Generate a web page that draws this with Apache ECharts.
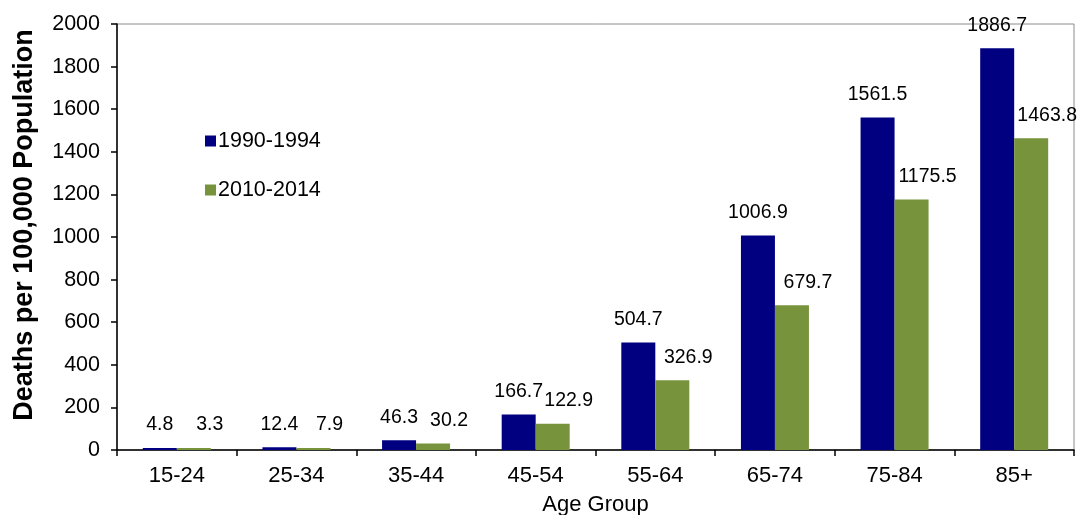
<!DOCTYPE html>
<html>

<head>
  <meta charset="utf-8" />
  <title>Deaths per 100,000 by Age Group</title>
  <script src="https://cdn.jsdelivr.net/npm/echarts@6/dist/echarts.min.js"></script>
  <style>
    html, body {
      margin: 0;
      padding: 0;
      background: #fff;
    }

    #main {
      width: 1080px;
      height: 515px;
    }
  </style>
</head>

<body>
  <div id="main"></div>

  <script>
    // 数据
    var ageGroups = ["15-24", "25-34", "35-44", "45-54", "55-64", "65-74", "75-84", "85+"];
    var rate1990 = [4.8, 12.4, 46.3, 166.7, 504.7, 1006.9, 1561.5, 1886.7];
    var rate2010 = [3.3, 7.9, 30.2, 122.9, 326.9, 679.7, 1175.5, 1463.8];
    var seriesNames = ["1990-1994", "2010-2014"];

    var font = "'Liberation Sans', Arial, sans-serif";

    var myChart = echarts.init(document.getElementById("main"));
    var option = {
      animation: false,
      backgroundColor: "#fff",
      textStyle: { fontFamily: font, color: "#000" },
      grid: {
        left: 117,
        right: 6,
        top: 24,
        bottom: 65,
        containLabel: false,
        outerBoundsMode: "none",
        show: true,
        borderColor: "#8c8c8c",
        borderWidth: 1
      },
      legend: {
        orient: "vertical",
        left: 200,
        top: 125,
        itemWidth: 11,
        itemHeight: 11,
        itemGap: 27,
        icon: "rect",
        textStyle: { fontSize: 21.5, fontFamily: font, color: "#000", lineHeight: 20, padding: [0, 0, 0, -3] },
        data: seriesNames
      },
      xAxis: {
        type: "category",
        data: ageGroups,
        name: "Age Group",
        nameLocation: "middle",
        nameGap: 44,
        nameTextStyle: { fontSize: 22, fontFamily: font, color: "#000" },
        axisLine: { lineStyle: { color: "#000", width: 1.5 } },
        axisTick: { show: true, length: 6, interval: 0, lineStyle: { color: "#000", width: 1.5 } },
        axisLabel: { fontSize: 22, color: "#000", margin: 15, fontFamily: font }
      },
      yAxis: {
        type: "value",
        min: 0,
        max: 2000,
        interval: 200,
        name: "Deaths per 100,000 Population",
        nameLocation: "middle",
        nameGap: 79,
        nameTextStyle: {
          fontSize: 27,
          fontWeight: "bold",
          fontFamily: font,
          color: "#000",
          padding: [0, 0, 0, 24]
        },
        axisLine: { show: true, lineStyle: { color: "#000", width: 1.5 } },
        axisTick: { show: true, length: 6, lineStyle: { color: "#000", width: 1.5 } },
        axisLabel: {
          fontSize: 21.5,
          color: "#000",
          margin: 17,
          fontFamily: font,
          formatter: function (v) { return String(v); }
        },
        splitLine: { show: false }
      },
      series: [{
        name: seriesNames[0],
        type: "bar",
        data: rate1990,
        barWidth: 34,
        barGap: "0%",
        barMinHeight: 2,
        itemStyle: { color: "#000080" },
        label: {
          show: true,
          position: "top",
          distance: 13,
          fontSize: 19.5,
          fontFamily: font,
          color: "#000"
        }
      }, {
        name: seriesNames[1],
        type: "bar",
        data: rate2010,
        barWidth: 34,
        barGap: "0%",
        barMinHeight: 2,
        itemStyle: { color: "#77933C" },
        label: {
          show: true,
          position: "top",
          distance: 13,
          offset: [16, 0],
          fontSize: 19.5,
          fontFamily: font,
          color: "#000"
        }
      }]
    };
    myChart.setOption(option);
  </script>
</body>

</html>
